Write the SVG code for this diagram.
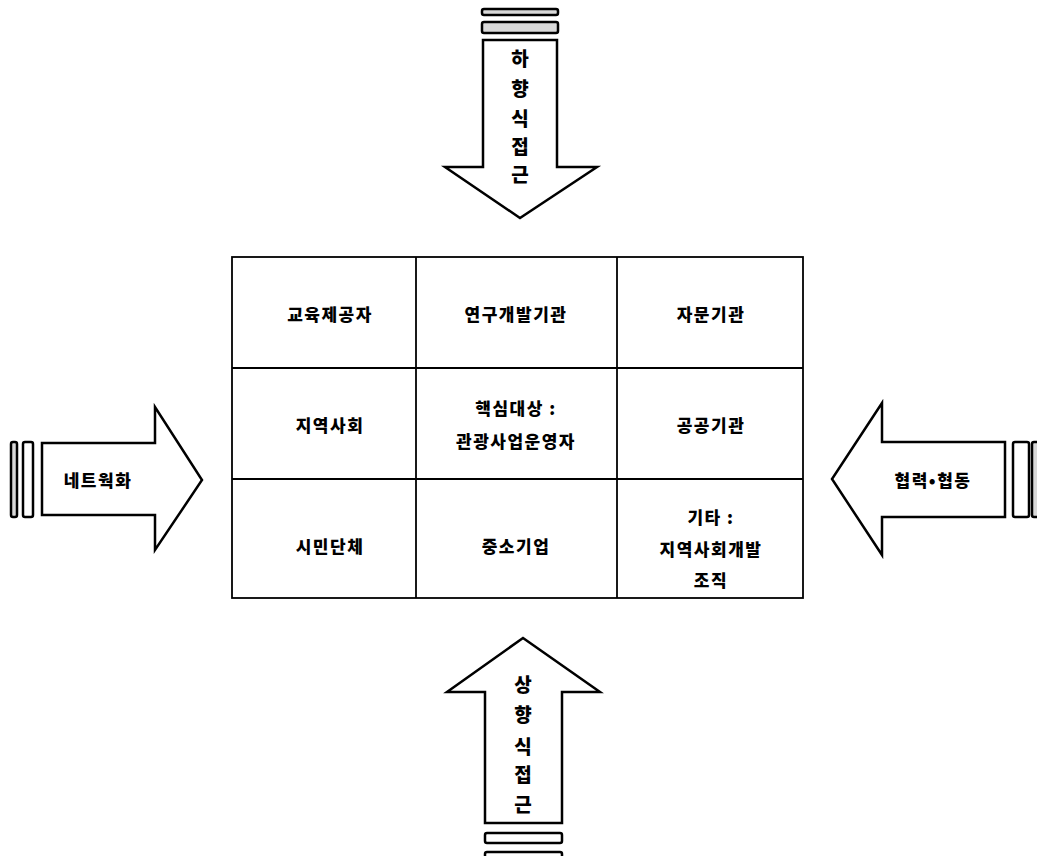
<svg xmlns="http://www.w3.org/2000/svg" width="1037" height="856" viewBox="0 0 1037 856">
<style>
.arrow{fill:#fff;stroke:#000;stroke-width:2.5;stroke-linejoin:miter}
.bar{fill:#fff;stroke:#000;stroke-width:2.5}
.bart{fill:#d8d8d8;stroke:#000;stroke-width:2.5}
.cell{fill:#fff;stroke:#000;stroke-width:1.8}
.t{font-family:"Noto Sans CJK KR","Noto Sans",sans-serif;font-size:17px;font-weight:900;fill:#000;text-anchor:middle;dominant-baseline:central;letter-spacing:1.5px}
.v{font-family:"Noto Sans CJK KR","Noto Sans",sans-serif;font-size:19px;font-weight:900;fill:#000;text-anchor:middle;dominant-baseline:central}
</style>
<rect width="1037" height="856" fill="#fff"/>
<g id="connectors">
<g id="arrow-top">
<rect class="bart" x="482" y="9" width="76" height="6" rx="2"/>
<rect class="bart" x="482" y="22" width="76" height="11" rx="2"/>
<polygon class="arrow" points="483,40 557,40 557,167 597,167 520,218 445,167 483,167"/>
<text class="v" x="520" y="57">하</text>
<text class="v" x="520" y="87">향</text>
<text class="v" x="520" y="117">식</text>
<text class="v" x="520" y="145">접</text>
<text class="v" x="520" y="173">근</text>
</g>
<g id="arrow-bottom">
<polygon class="arrow" points="523,638 600,692 562,692 562,823 485,823 485,692 447,692"/>
<rect class="bar" x="485" y="833" width="77" height="10" rx="2"/>
<rect class="bar" x="485" y="852" width="77" height="10" rx="2"/>
<text class="v" x="523" y="683">상</text>
<text class="v" x="523" y="713">향</text>
<text class="v" x="523" y="745">식</text>
<text class="v" x="523" y="773">접</text>
<text class="v" x="523" y="803">근</text>
</g>
<g id="arrow-left">
<rect class="bart" x="11" y="442" width="6" height="75" rx="2"/>
<rect class="bar" x="23" y="442" width="10" height="75" rx="2"/>
<polygon class="arrow" points="42,443 155,443 155,407 202,480 155,550 155,515 42,515"/>
<text class="t" x="98" y="479">네트웍화</text>
</g>
<g id="arrow-right">
<polygon class="arrow" points="1005,442 882,442 882,403 832,479 882,555 882,517 1005,517"/>
<rect class="bar" x="1013" y="442" width="16" height="75" rx="2"/>
<rect class="bart" x="1032" y="442" width="8" height="75" rx="2"/>
<text class="t" x="933" y="479">협력•협동</text>
</g>
</g>
<g id="grid">
<rect class="cell" x="232" y="257" width="571" height="341"/>
<line class="cell" x1="416" y1="257" x2="416" y2="598"/>
<line class="cell" x1="617" y1="257" x2="617" y2="598"/>
<line class="cell" x1="232" y1="368" x2="803" y2="368"/>
<line class="cell" x1="232" y1="479" x2="803" y2="479"/>
</g>
<g id="n1"><text class="t" x="330" y="313">교육제공자</text></g>
<g id="n2"><text class="t" x="516" y="313">연구개발기관</text></g>
<g id="n3"><text class="t" x="711" y="313">자문기관</text></g>
<g id="n4"><text class="t" x="330" y="424">지역사회</text></g>
<g id="n5"><text class="t" x="516" y="407">핵심대상 :</text><text class="t" x="516" y="440">관광사업운영자</text></g>
<g id="n6"><text class="t" x="711" y="424">공공기관</text></g>
<g id="n7"><text class="t" x="330" y="545">시민단체</text></g>
<g id="n8"><text class="t" x="516" y="545">중소기업</text></g>
<g id="n9"><text class="t" x="711" y="516">기타 :</text><text class="t" x="711" y="548">지역사회개발</text><text class="t" x="711" y="579">조직</text></g>
</svg>
